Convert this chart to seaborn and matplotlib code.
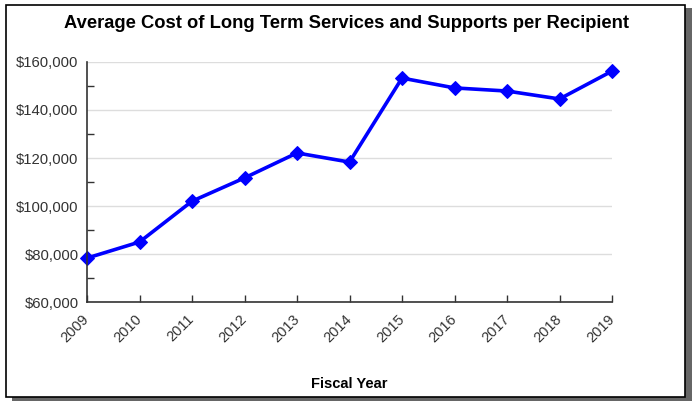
import seaborn as sns
import pandas as pd
import matplotlib.pyplot as plt
from matplotlib.patches import Rectangle
from matplotlib.transforms import ScaledTranslation
from matplotlib.ticker import MultipleLocator, FuncFormatter

years = [2009, 2010, 2011, 2012, 2013, 2014, 2015, 2016, 2017, 2018, 2019]
cost = [78300, 85000, 102000, 111700, 122100, 118300, 153300, 149200, 147900, 144600, 156200]
year_labels = [str(y) for y in years]

df = pd.DataFrame({'year': years, 'cost': cost})

sns.set_style('white')
plt.rcParams['font.family'] = ['Liberation Sans', 'DejaVu Sans']

fig = plt.figure(figsize=(6.92, 4.01), dpi=100)

# frame with drop shadow
fig.patches.append(Rectangle((12 / 692, 0), 680 / 692, 393 / 401, transform=fig.transFigure,
                             facecolor='#666666', edgecolor='none', zorder=0))
fig.patches.append(Rectangle((6 / 692, 4 / 401), 679 / 692, 392 / 401, transform=fig.transFigure,
                             facecolor='white', edgecolor='black', linewidth=1.2, zorder=1))

ax = fig.add_axes([87 / 692, (401 - 302) / 401, (612 - 87) / 692, (302 - 62) / 401])
ax.set_facecolor('none')
ax.set_zorder(5)

sns.lineplot(data=df, x='year', y='cost', ax=ax, color='#0000ff', linewidth=2.6,
             marker='D', markersize=7, markeredgecolor='#0000ff', clip_on=False)

ax.set_xlim(2009, 2019)
ax.set_ylim(60000, 160000)
ax.set_xticks(years)
ax.set_xticklabels(year_labels, rotation=45, ha='right', va='center', rotation_mode='anchor',
                   color='#333333', fontsize=10.5)
shift = ScaledTranslation(-5 / 72, 0, fig.dpi_scale_trans)
for lab in ax.get_xticklabels():
    lab.set_transform(lab.get_transform() + shift)
ax.yaxis.set_major_locator(MultipleLocator(20000))
ax.yaxis.set_minor_locator(MultipleLocator(10000))
ax.yaxis.set_major_formatter(FuncFormatter(lambda v, p: '${:,.0f}'.format(v)))
for lab in ax.get_yticklabels():
    lab.set_color('#333333')
    lab.set_fontsize(10.7)
ax.grid(axis='y', which='major', color='#dddddd', linewidth=1)
ax.tick_params(axis='x', direction='in', length=5, width=1, color='#333333', pad=11, bottom=True)
ax.tick_params(axis='y', which='both', direction='in', length=5, width=1, color='#333333', left=True)
ax.tick_params(axis='y', which='major', length=0, pad=6)

for s in ['top', 'right']:
    ax.spines[s].set_visible(False)
for s in ['left', 'bottom']:
    ax.spines[s].set_color('#333333')
    ax.spines[s].set_linewidth(1.2)

ax.set_xlabel('Fiscal Year', fontsize=10.5, fontweight='bold', labelpad=0, color='black')
ax.xaxis.set_label_coords(0.5, -0.3125)
ax.set_ylabel('')
fig.text(0.5, 1 - 24 / 401, 'Average Cost of Long Term Services and Supports per Recipient',
         ha='center', va='center', fontsize=13.2, fontweight='bold', color='black')

fig.savefig('out.png', dpi=100)
